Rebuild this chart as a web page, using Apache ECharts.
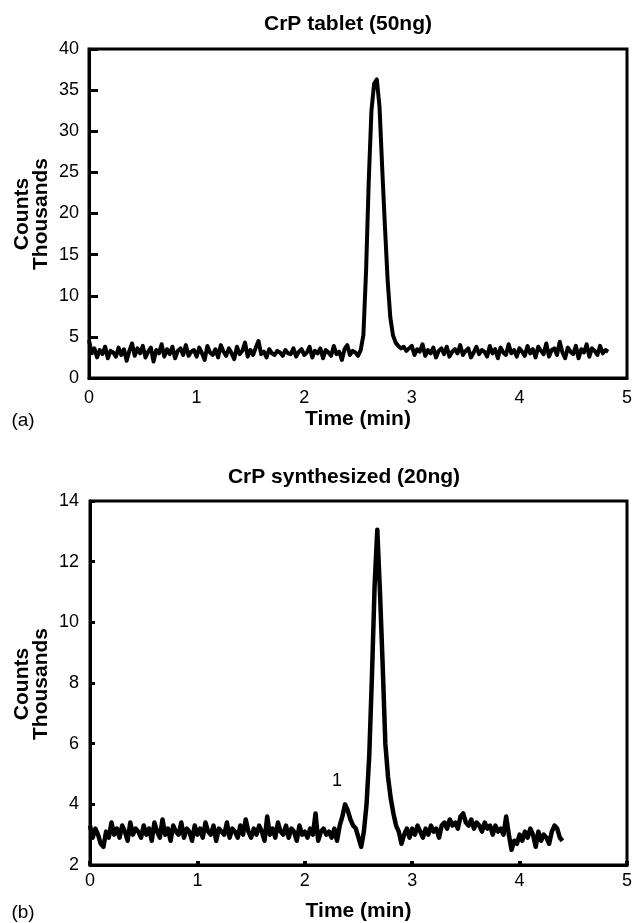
<!DOCTYPE html>
<html>
<head>
<meta charset="utf-8">
<script src="https://cdn.jsdelivr.net/npm/echarts@6/dist/echarts.min.js"></script>
<style>
  html, body { margin: 0; padding: 0; background: #fff; }
  #chart { width: 635px; height: 923px; }
</style>
</head>
<body>
<div id="chart"></div>
<script>
// sampling step of both traces (min)
var timeStep = 0.025;

// (a) CrP tablet (50ng), counts in thousands, t = 0 .. 4.825
var countsA = [
  4.6, 3.0, 3.6, 2.5, 3.4, 2.9, 3.8, 2.4, 3.3, 3.1, 2.6, 3.7, 2.8, 3.5, 2.1, 3.3, 4.2, 2.7, 3.6, 3.0,
  3.9, 2.5, 3.2, 3.7, 2.0, 3.4, 3.0, 4.1, 2.6, 3.5, 2.9, 3.8, 2.4, 3.3, 3.6, 2.8, 4.0, 2.7, 3.2, 3.4,
  2.6, 3.7, 3.0, 2.2, 3.9, 3.1, 2.8, 3.5, 2.5, 4.0, 3.2, 2.7, 3.6, 3.0, 2.3, 3.8, 2.9, 3.3, 4.3, 2.6,
  3.4, 2.8, 3.7, 4.5, 2.9, 3.2, 2.5, 3.5, 3.0, 2.8, 3.3, 3.1, 2.7, 3.4, 3.0, 2.9, 3.6, 2.6, 3.2, 3.5,
  2.8, 3.1, 3.8, 2.5, 3.3, 3.0, 3.6, 2.4, 3.4, 3.1, 2.7, 3.9, 2.9, 3.2, 2.2, 3.5, 4.0, 2.8, 3.3, 3.1,
  2.7, 3.4, 5.2, 13.0, 24.0, 32.5, 35.8, 36.3, 33.0, 25.5, 18.5, 12.0, 7.4, 5.2, 4.3, 3.9, 3.6, 3.8, 3.3, 3.6,
  3.9, 2.8, 3.5, 3.2, 4.1, 2.7, 3.4, 3.0, 3.7, 2.5, 3.3, 3.6, 2.9, 3.8, 2.6, 3.2, 3.5, 3.0, 4.0, 2.8,
  3.3, 3.6, 2.5, 3.1, 3.8, 2.9, 3.4, 3.2, 2.6, 3.9, 3.0, 3.5, 2.4, 3.7, 3.1, 2.8, 4.1, 3.0, 3.4, 2.6,
  3.6, 3.2, 2.7, 3.9, 3.0, 3.5, 2.5, 3.8, 3.3, 2.9, 4.2, 2.6, 3.4, 3.6, 2.8, 4.4, 3.1, 2.4, 3.7, 3.2,
  2.9, 3.9, 2.4, 3.5, 3.1, 4.1, 2.6, 3.6, 3.3, 2.8, 3.9, 3.0, 3.4, 3.2
];

// (b) CrP synthesized (20ng), counts in thousands, t = 0 .. 4.4
var countsB = [
  3.3, 2.9, 3.2, 3.0, 2.7, 2.6, 3.1, 2.9, 3.4, 3.0, 3.2, 2.9, 3.3, 3.1, 2.8, 3.4, 3.0, 3.2, 3.1, 2.9,
  3.3, 3.0, 3.2, 2.8, 3.4, 3.1, 2.9, 3.5, 3.0, 3.2, 2.8, 3.3, 3.1, 3.0, 3.4, 2.9, 3.2, 3.1, 2.8, 3.3,
  3.0, 3.2, 2.9, 3.4, 3.1, 3.0, 3.3, 2.8, 3.2, 3.1, 3.0, 3.4, 2.9, 3.2, 3.1, 2.9, 3.3, 3.0, 3.5, 3.1,
  2.9, 3.2, 3.0, 3.3, 3.1, 2.8, 3.6, 3.0, 3.2, 2.9, 3.4, 3.1, 3.0, 3.3, 2.9, 3.2, 3.1, 2.8, 3.3, 3.0,
  3.1, 2.9, 3.2, 3.0, 3.7, 2.8, 3.1, 3.2, 3.0, 3.1, 2.9, 3.2, 2.8, 3.3, 3.6, 4.0, 3.8, 3.5, 3.3, 3.2,
  2.9, 2.6, 3.1, 4.0, 5.6, 8.2, 11.2, 13.05, 11.0, 8.6, 6.0, 4.9, 4.2, 3.7, 3.3, 3.1, 2.7, 3.0, 3.2, 2.9,
  3.2, 3.0, 3.3, 3.1, 2.9, 3.2, 3.0, 3.3, 3.1, 3.2, 2.9, 3.3, 3.4, 3.2, 3.5, 3.3, 3.4, 3.2, 3.6, 3.7,
  3.4, 3.3, 3.5, 3.2, 3.4, 3.3, 3.1, 3.4, 3.2, 3.3, 3.0, 3.3, 3.1, 3.2, 3.0, 3.6, 3.0, 2.5, 2.8, 2.7,
  3.0, 2.8, 3.1, 2.9, 3.2, 3.0, 2.6, 3.1, 2.8, 3.0, 2.9, 2.7, 3.1, 3.3, 3.2, 2.9, 2.8
];

// peak label in panel (b)
var peakLabelB = { text: '1', time: 2.30, counts: 4.77 };

function toPairs(values) {
  return values.map(function (v, i) { return [+(i * timeStep).toFixed(3), v]; });
}

var chart = echarts.init(document.getElementById('chart'));

var font = 'Liberation Sans, Arial, Helvetica, sans-serif';
var tickLabel = { color: '#000', fontSize: 18, fontFamily: font };
var boldName = { color: '#000', fontSize: 21, fontWeight: 'bold', fontFamily: font };

var option = {
  animation: false,
  backgroundColor: '#fff',
  grid: [
    { left: 89, top: 49, right: 8, height: 329, show: true, borderColor: '#000', borderWidth: 3, backgroundColor: 'transparent' },
    { left: 90, top: 501, right: 6, height: 365, show: true, borderColor: '#000', borderWidth: 3, backgroundColor: 'transparent' }
  ],
  xAxis: [
    {
      gridIndex: 0, type: 'value', min: 0, max: 5, interval: 1,
      name: 'Time (min)', nameLocation: 'middle', nameGap: 31, nameTextStyle: boldName,
      axisLine: { show: true, lineStyle: { color: '#000', width: 3 } },
      axisTick: { show: false },
      axisLabel: Object.assign({ margin: 11 }, tickLabel),
      splitLine: { show: false }
    },
    {
      gridIndex: 1, type: 'value', min: 0, max: 5, interval: 1,
      name: 'Time (min)', nameLocation: 'middle', nameGap: 36, nameTextStyle: boldName,
      axisLine: { show: true, lineStyle: { color: '#000', width: 3 } },
      axisTick: { show: true, inside: true, length: 4, lineStyle: { color: '#000', width: 4 } },
      axisLabel: Object.assign({ margin: 7 }, tickLabel),
      splitLine: { show: false }
    }
  ],
  yAxis: [
    {
      gridIndex: 0, type: 'value', min: 0, max: 40, interval: 5,
      axisLine: { show: true, lineStyle: { color: '#000', width: 3 } },
      axisTick: { show: true, inside: true, length: 9, lineStyle: { color: '#000', width: 3 } },
      axisLabel: Object.assign({ margin: 10 }, tickLabel),
      splitLine: { show: false }
    },
    {
      gridIndex: 1, type: 'value', min: 2, max: 14, interval: 2,
      axisLine: { show: true, lineStyle: { color: '#000', width: 3 } },
      axisTick: { show: true, inside: true, length: 5, lineStyle: { color: '#000', width: 3 } },
      axisLabel: Object.assign({ margin: 11 }, tickLabel),
      splitLine: { show: false }
    }
  ],
  series: [
    {
      name: 'CrP tablet (50ng)', type: 'line', xAxisIndex: 0, yAxisIndex: 0,
      data: toPairs(countsA), showSymbol: false, symbol: 'none',
      lineStyle: { color: '#000', width: 4, join: 'round' }
    },
    {
      name: 'CrP synthesized (20ng)', type: 'line', xAxisIndex: 1, yAxisIndex: 1,
      data: toPairs(countsB), showSymbol: false, symbol: 'none',
      lineStyle: { color: '#000', width: 4.5, join: 'round' },
      markPoint: {
        symbol: 'circle', symbolSize: 1,
        itemStyle: { color: 'rgba(0,0,0,0)' },
        label: { show: true, position: 'inside', formatter: peakLabelB.text, color: '#000', fontSize: 18, fontFamily: font },
        data: [{ coord: [peakLabelB.time, peakLabelB.counts] }]
      }
    }
  ],
  graphic: [
    { type: 'text', x: 348, y: 24, style: { text: 'CrP tablet (50ng)', align: 'center', verticalAlign: 'middle', fill: '#000', font: 'bold 21px ' + font } },
    { type: 'text', x: 344, y: 477, style: { text: 'CrP synthesized (20ng)', align: 'center', verticalAlign: 'middle', fill: '#000', font: 'bold 21px ' + font } },
    { type: 'text', x: 22, y: 214, rotation: Math.PI / 2, style: { text: 'Counts', align: 'center', verticalAlign: 'middle', fill: '#000', font: 'bold 21px ' + font } },
    { type: 'text', x: 41, y: 214, rotation: Math.PI / 2, style: { text: 'Thousands', align: 'center', verticalAlign: 'middle', fill: '#000', font: 'bold 21px ' + font } },
    { type: 'text', x: 22, y: 684, rotation: Math.PI / 2, style: { text: 'Counts', align: 'center', verticalAlign: 'middle', fill: '#000', font: 'bold 21px ' + font } },
    { type: 'text', x: 41, y: 684, rotation: Math.PI / 2, style: { text: 'Thousands', align: 'center', verticalAlign: 'middle', fill: '#000', font: 'bold 21px ' + font } },
    { type: 'text', x: 23, y: 421, style: { text: '(a)', align: 'center', verticalAlign: 'middle', fill: '#000', font: '19px ' + font } },
    { type: 'text', x: 23, y: 913, style: { text: '(b)', align: 'center', verticalAlign: 'middle', fill: '#000', font: '19px ' + font } }
  ]
};

chart.setOption(option);
</script>
</body>
</html>
